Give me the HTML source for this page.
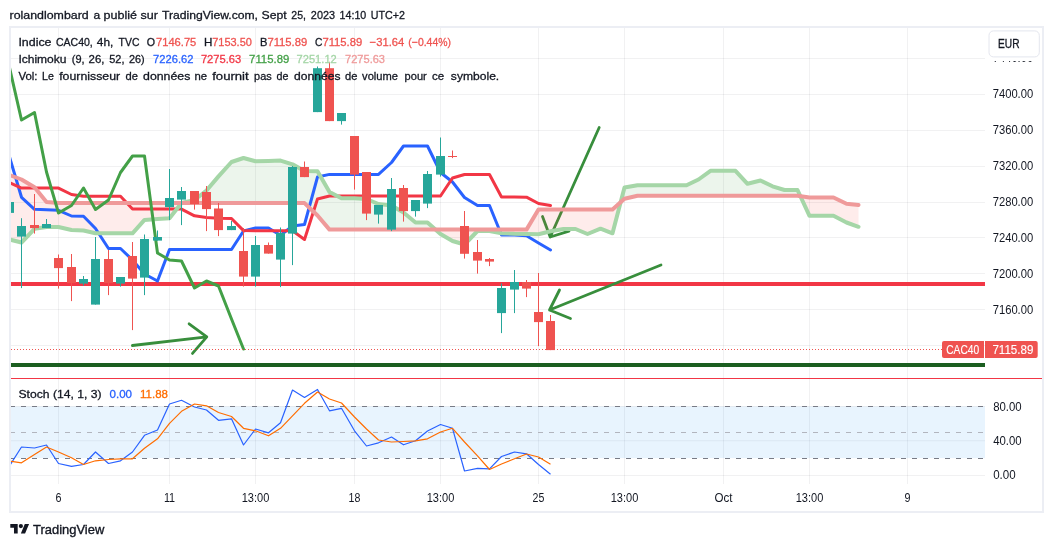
<!DOCTYPE html>
<html><head><meta charset="utf-8"><title>CAC40</title>
<style>
html,body{margin:0;padding:0;background:#fff;}
body{width:1053px;height:547px;overflow:hidden;}
svg{display:block;font-family:"Liberation Sans",sans-serif;will-change:transform;}
</style></head><body>
<svg width="1053" height="547" viewBox="0 0 1053 547">
<defs>
<clipPath id="mainclip"><rect x="10" y="27" width="975" height="351"/></clipPath>
<clipPath id="stochclip"><rect x="10" y="379" width="975" height="105"/></clipPath>
<clipPath id="hid"><rect x="985" y="60.9" width="58" height="10"/></clipPath>
</defs>
<rect width="1053" height="547" fill="#fff"/>
<line x1="10" x2="985" y1="58.5" y2="58.5" stroke="rgba(42,46,57,0.065)" stroke-width="1"/>
<line x1="10" x2="985" y1="94.5" y2="94.5" stroke="rgba(42,46,57,0.065)" stroke-width="1"/>
<line x1="10" x2="985" y1="130.5" y2="130.5" stroke="rgba(42,46,57,0.065)" stroke-width="1"/>
<line x1="10" x2="985" y1="166.5" y2="166.5" stroke="rgba(42,46,57,0.065)" stroke-width="1"/>
<line x1="10" x2="985" y1="202.5" y2="202.5" stroke="rgba(42,46,57,0.065)" stroke-width="1"/>
<line x1="10" x2="985" y1="237.5" y2="237.5" stroke="rgba(42,46,57,0.065)" stroke-width="1"/>
<line x1="10" x2="985" y1="273.5" y2="273.5" stroke="rgba(42,46,57,0.065)" stroke-width="1"/>
<line x1="10" x2="985" y1="309.5" y2="309.5" stroke="rgba(42,46,57,0.065)" stroke-width="1"/>
<line x1="10" x2="985" y1="345.5" y2="345.5" stroke="rgba(42,46,57,0.065)" stroke-width="1"/>
<line x1="10" x2="985" y1="406.5" y2="406.5" stroke="rgba(42,46,57,0.065)" stroke-width="1"/>
<line x1="10" x2="985" y1="440.7" y2="440.7" stroke="rgba(42,46,57,0.065)" stroke-width="1"/>
<line x1="10" x2="985" y1="475.5" y2="475.5" stroke="rgba(42,46,57,0.065)" stroke-width="1"/>
<line x1="58.5" x2="58.5" y1="27" y2="484" stroke="rgba(42,46,57,0.065)" stroke-width="1"/>
<line x1="169.5" x2="169.5" y1="27" y2="484" stroke="rgba(42,46,57,0.065)" stroke-width="1"/>
<line x1="255.5" x2="255.5" y1="27" y2="484" stroke="rgba(42,46,57,0.065)" stroke-width="1"/>
<line x1="354.5" x2="354.5" y1="27" y2="484" stroke="rgba(42,46,57,0.065)" stroke-width="1"/>
<line x1="440.5" x2="440.5" y1="27" y2="484" stroke="rgba(42,46,57,0.065)" stroke-width="1"/>
<line x1="538.5" x2="538.5" y1="27" y2="484" stroke="rgba(42,46,57,0.065)" stroke-width="1"/>
<line x1="624.5" x2="624.5" y1="27" y2="484" stroke="rgba(42,46,57,0.065)" stroke-width="1"/>
<line x1="723.5" x2="723.5" y1="27" y2="484" stroke="rgba(42,46,57,0.065)" stroke-width="1"/>
<line x1="809.5" x2="809.5" y1="27" y2="484" stroke="rgba(42,46,57,0.065)" stroke-width="1"/>
<line x1="907.5" x2="907.5" y1="27" y2="484" stroke="rgba(42,46,57,0.065)" stroke-width="1"/>
<g clip-path="url(#mainclip)">
<line x1="10" x2="985" y1="284" y2="284" stroke="#f23645" stroke-width="4"/>
<line x1="10" x2="985" y1="365" y2="365" stroke="#1b5e20" stroke-width="4"/>
<path d="M132.4 345.5L206.8 336.9M189.1 323.8L206.8 336.9L192.5 353.4" fill="none" stroke="#388e3c" stroke-width="2.8" stroke-linecap="round" stroke-linejoin="round"/>
<path d="M599.2 127.5L550.2 237M542.5 216.5L550.2 237L569 231.2" fill="none" stroke="#388e3c" stroke-width="2.8" stroke-linecap="round" stroke-linejoin="round"/>
<path d="M661 265L549.5 310M559.5 290L549.5 310L570.5 318.5" fill="none" stroke="#388e3c" stroke-width="2.8" stroke-linecap="round" stroke-linejoin="round"/>
<polygon points="9.50,239.50 21.50,242.50 34.50,228.80 46.50,227.00 58.50,227.00 71.50,230.00 83.50,230.50 95.50,233.30 108.50,233.30 120.50,233.30 132.50,233.30 144.50,219.90 157.50,218.90 169.50,218.30 181.42,203.10 169.50,203.10 157.50,203.10 144.50,203.10 132.50,203.10 120.50,203.10 108.50,203.10 95.50,203.10 83.50,203.10 71.50,203.10 58.50,203.10 46.50,202.00 34.50,187.30 21.50,179.50 9.50,175.00" fill="rgba(244,67,54,0.1)"/>
<polygon points="181.42,203.10 181.50,203.00 194.50,200.00 206.50,190.50 218.50,176.40 231.50,162.00 243.50,158.00 255.50,161.30 268.50,161.00 280.50,160.60 292.50,164.30 304.50,171.00 317.50,171.20 329.50,192.00 341.50,198.30 354.50,198.30 366.50,199.00 378.50,204.00 391.50,205.50 403.50,212.50 415.50,222.50 427.50,222.50 435.53,229.60 427.50,229.60 415.50,229.60 403.50,229.60 391.50,229.60 378.50,229.60 366.50,229.60 354.50,229.60 341.50,229.60 329.50,229.60 317.50,215.50 304.50,203.10 292.50,203.10 280.50,203.10 268.50,203.10 255.50,203.10 243.50,203.10 231.50,203.10 218.50,203.10 206.50,203.10 194.50,203.10 181.50,203.10" fill="rgba(67,160,71,0.1)"/>
<polygon points="435.53,229.60 440.50,234.00 452.50,241.00 464.50,244.50 477.50,231.00 489.50,231.00 501.50,233.20 514.50,233.80 526.50,234.00 538.50,234.30 550.50,231.30 563.50,229.00 575.50,229.00 587.50,234.00 600.50,228.70 612.50,233.30 620.64,202.24 612.50,209.50 600.50,209.50 587.50,209.50 575.50,209.50 563.50,209.50 550.50,209.50 538.50,209.50 526.50,229.60 514.50,229.60 501.50,229.60 489.50,229.60 477.50,229.60 464.50,229.60 452.50,229.60 440.50,229.60" fill="rgba(244,67,54,0.1)"/>
<polygon points="620.64,202.24 624.50,187.50 637.50,185.20 649.50,185.20 661.50,185.20 674.50,185.20 686.50,185.20 698.50,179.50 710.50,170.80 723.50,170.80 735.50,170.80 747.50,183.80 760.50,180.50 772.50,186.30 784.50,190.00 797.50,190.00 800.39,196.21 797.50,195.80 784.50,195.80 772.50,195.80 760.50,195.80 747.50,195.80 735.50,195.80 723.50,195.80 710.50,195.80 698.50,195.80 686.50,195.80 674.50,195.80 661.50,195.80 649.50,195.80 637.50,195.80 624.50,198.80" fill="rgba(67,160,71,0.1)"/>
<polygon points="800.39,196.21 809.50,215.80 821.50,215.80 833.50,215.80 846.50,222.50 858.50,226.80 858.50,205.00 846.50,203.80 833.50,197.50 821.50,197.50 809.50,197.50" fill="rgba(244,67,54,0.1)"/>
<polyline points="9.5,157 21.5,197.3 34.5,209.3 46.5,209.7 58.5,210.3 71.5,216 83.5,216.2 95.5,228.5 108.5,248.5 120.5,248.5 132.5,260 144.5,274 157.5,281 169.5,249.5 181.5,249.5 194.5,249.5 206.5,249.5 218.5,249.5 231.5,249.5 243.5,231 255.5,228 268.5,228 280.5,235.2 292.5,226 304.5,224.5 317.5,177 329.5,174.4 341.5,174.4 354.5,174.4 366.5,174.4 378.5,174.4 391.5,162.5 403.5,146 415.5,146 427.5,146 440.5,172.5 452.5,182 464.5,197.5 477.5,205.5 489.5,205.5 501.5,235 514.5,235 526.5,235.8 538.5,243 550.5,250" fill="none" stroke="#2962ff" stroke-width="3" stroke-linejoin="round" stroke-linecap="round"/>
<polyline points="9.5,182.6 21.5,188.1 34.5,188.1 46.5,188.1 58.5,188.1 71.5,194.5 83.5,196.2 95.5,196.2 108.5,196.2 120.5,196.2 132.5,209.1 144.5,209.1 157.5,209.1 169.5,209.1 181.5,209.1 194.5,215.8 206.5,217.6 218.5,218.3 231.5,218.5 243.5,230.6 255.5,230.8 268.5,230.8 280.5,230.8 292.5,230.8 304.5,239.5 317.5,199 329.5,196 341.5,196 354.5,196 366.5,196 378.5,196 391.5,196 403.5,196 415.5,196 427.5,196 440.5,196 452.5,178 464.5,174.5 477.5,174.5 489.5,174.5 501.5,197 514.5,197 526.5,197.2 538.5,203.5 550.5,205.5" fill="none" stroke="#f23645" stroke-width="3" stroke-linejoin="round" stroke-linecap="round"/>
<polyline points="9.5,239.5 21.5,242.5 34.5,228.8 46.5,227 58.5,227 71.5,230 83.5,230.5 95.5,233.3 108.5,233.3 120.5,233.3 132.5,233.3 144.5,219.9 157.5,218.9 169.5,218.3 181.5,203 194.5,200 206.5,190.5 218.5,176.4 231.5,162 243.5,158 255.5,161.3 268.5,161 280.5,160.6 292.5,164.3 304.5,171 317.5,171.2 329.5,192 341.5,198.3 354.5,198.3 366.5,199 378.5,204 391.5,205.5 403.5,212.5 415.5,222.5 427.5,222.5 440.5,234 452.5,241 464.5,244.5 477.5,231 489.5,231 501.5,233.2 514.5,233.8 526.5,234 538.5,234.3 550.5,231.3 563.5,229 575.5,229 587.5,234 600.5,228.7 612.5,233.3 624.5,187.5 637.5,185.2 649.5,185.2 661.5,185.2 674.5,185.2 686.5,185.2 698.5,179.5 710.5,170.8 723.5,170.8 735.5,170.8 747.5,183.8 760.5,180.5 772.5,186.3 784.5,190 797.5,190 809.5,215.8 821.5,215.8 833.5,215.8 846.5,222.5 858.5,226.8" fill="none" stroke="#a5d6a7" stroke-width="4" stroke-linejoin="round" stroke-linecap="round"/>
<polyline points="9.5,175 21.5,179.5 34.5,187.3 46.5,202 58.5,203.1 71.5,203.1 83.5,203.1 95.5,203.1 108.5,203.1 120.5,203.1 132.5,203.1 144.5,203.1 157.5,203.1 169.5,203.1 181.5,203.1 194.5,203.1 206.5,203.1 218.5,203.1 231.5,203.1 243.5,203.1 255.5,203.1 268.5,203.1 280.5,203.1 292.5,203.1 304.5,203.1 317.5,215.5 329.5,229.6 341.5,229.6 354.5,229.6 366.5,229.6 378.5,229.6 391.5,229.6 403.5,229.6 415.5,229.6 427.5,229.6 440.5,229.6 452.5,229.6 464.5,229.6 477.5,229.6 489.5,229.6 501.5,229.6 514.5,229.6 526.5,229.6 538.5,209.5 550.5,209.5 563.5,209.5 575.5,209.5 587.5,209.5 600.5,209.5 612.5,209.5 624.5,198.8 637.5,195.8 649.5,195.8 661.5,195.8 674.5,195.8 686.5,195.8 698.5,195.8 710.5,195.8 723.5,195.8 735.5,195.8 747.5,195.8 760.5,195.8 772.5,195.8 784.5,195.8 797.5,195.8 809.5,197.5 821.5,197.5 833.5,197.5 846.5,203.8 858.5,205" fill="none" stroke="#ef9a9a" stroke-width="4" stroke-linejoin="round" stroke-linecap="round"/>
<polyline points="9.5,67.5 21.5,120 34.5,112.5 46.5,172 58.5,213 71.5,205.5 83.5,188 95.5,209.5 108.5,200 120.5,172.5 132.5,156 144.5,156 157.5,253 169.5,260 181.5,261 194.5,288 206.5,281 218.5,286 231.5,319 243.5,349" fill="none" stroke="#43a047" stroke-width="3" stroke-linejoin="round" stroke-linecap="round"/>
<rect x="9" y="202" width="1" height="10.9" fill="#26a69a"/>
<rect x="5" y="202" width="9" height="10.9" fill="#26a69a"/>
<rect x="21" y="218.2" width="1" height="69.9" fill="#26a69a"/>
<rect x="17" y="226" width="9" height="10.6" fill="#26a69a"/>
<rect x="34" y="194" width="1" height="39.6" fill="#ef5350"/>
<rect x="30" y="225" width="9" height="3.1" fill="#ef5350"/>
<rect x="46" y="219" width="1" height="9.1" fill="#26a69a"/>
<rect x="42" y="224" width="9" height="4.1" fill="#26a69a"/>
<rect x="58" y="254.5" width="1" height="34.1" fill="#ef5350"/>
<rect x="54" y="258" width="9" height="10.1" fill="#ef5350"/>
<rect x="71" y="254" width="1" height="47.1" fill="#ef5350"/>
<rect x="67" y="267" width="9" height="16.1" fill="#ef5350"/>
<rect x="83" y="276" width="1" height="9.6" fill="#26a69a"/>
<rect x="79" y="279" width="9" height="4.6" fill="#26a69a"/>
<rect x="95" y="237" width="1" height="67.6" fill="#26a69a"/>
<rect x="91" y="259" width="9" height="45.6" fill="#26a69a"/>
<rect x="108" y="250" width="1" height="45.1" fill="#ef5350"/>
<rect x="104" y="259" width="9" height="24.1" fill="#ef5350"/>
<rect x="120" y="277" width="1" height="9.6" fill="#26a69a"/>
<rect x="116" y="277" width="9" height="6.6" fill="#26a69a"/>
<rect x="132" y="242" width="1" height="88.1" fill="#ef5350"/>
<rect x="128" y="256" width="9" height="22.6" fill="#ef5350"/>
<rect x="144" y="234.5" width="1" height="60.6" fill="#26a69a"/>
<rect x="140" y="239" width="9" height="38.6" fill="#26a69a"/>
<rect x="157" y="230.5" width="1" height="10.1" fill="#26a69a"/>
<rect x="153" y="237" width="9" height="3.6" fill="#26a69a"/>
<rect x="169" y="169" width="1" height="51.1" fill="#26a69a"/>
<rect x="165" y="198" width="9" height="9.1" fill="#26a69a"/>
<rect x="181" y="187" width="1" height="38.1" fill="#26a69a"/>
<rect x="177" y="191" width="9" height="8.6" fill="#26a69a"/>
<rect x="194" y="191" width="1" height="18.6" fill="#ef5350"/>
<rect x="190" y="191" width="9" height="13.1" fill="#ef5350"/>
<rect x="206" y="186" width="1" height="45.1" fill="#ef5350"/>
<rect x="202" y="192" width="9" height="17.1" fill="#ef5350"/>
<rect x="218" y="203" width="1" height="33.1" fill="#ef5350"/>
<rect x="214" y="208.5" width="9" height="21.6" fill="#ef5350"/>
<rect x="231" y="221" width="1" height="9.1" fill="#26a69a"/>
<rect x="227" y="226" width="9" height="4.1" fill="#26a69a"/>
<rect x="243" y="228" width="1" height="58.6" fill="#ef5350"/>
<rect x="239" y="251" width="9" height="25.6" fill="#ef5350"/>
<rect x="255" y="236" width="1" height="50.6" fill="#26a69a"/>
<rect x="251" y="245" width="9" height="31.6" fill="#26a69a"/>
<rect x="268" y="242.5" width="1" height="11.1" fill="#ef5350"/>
<rect x="264" y="245" width="9" height="8.6" fill="#ef5350"/>
<rect x="280" y="227.5" width="1" height="59.6" fill="#26a69a"/>
<rect x="276" y="233" width="9" height="26.6" fill="#26a69a"/>
<rect x="292" y="166" width="1" height="99.1" fill="#26a69a"/>
<rect x="288" y="167" width="9" height="66.6" fill="#26a69a"/>
<rect x="304" y="161.5" width="1" height="15.6" fill="#ef5350"/>
<rect x="300" y="167" width="9" height="10.1" fill="#ef5350"/>
<rect x="317" y="66.5" width="1" height="45.6" fill="#26a69a"/>
<rect x="313" y="68.2" width="9" height="43.9" fill="#26a69a"/>
<rect x="329" y="61.8" width="1" height="59.3" fill="#ef5350"/>
<rect x="325" y="68.2" width="9" height="52.9" fill="#ef5350"/>
<rect x="341" y="113" width="1" height="11.6" fill="#26a69a"/>
<rect x="337" y="113" width="9" height="8.1" fill="#26a69a"/>
<rect x="354" y="136" width="1" height="53.6" fill="#ef5350"/>
<rect x="350" y="136" width="9" height="38.6" fill="#ef5350"/>
<rect x="366" y="172" width="1" height="48.1" fill="#ef5350"/>
<rect x="362" y="172" width="9" height="41.6" fill="#ef5350"/>
<rect x="378" y="205" width="1" height="18.6" fill="#26a69a"/>
<rect x="374" y="205" width="9" height="9.6" fill="#26a69a"/>
<rect x="391" y="178" width="1" height="53.1" fill="#26a69a"/>
<rect x="387" y="189" width="9" height="40.6" fill="#26a69a"/>
<rect x="403" y="185" width="1" height="36.6" fill="#ef5350"/>
<rect x="399" y="188" width="9" height="23.1" fill="#ef5350"/>
<rect x="415" y="200" width="1" height="16.6" fill="#26a69a"/>
<rect x="411" y="200" width="9" height="11.1" fill="#26a69a"/>
<rect x="427" y="171" width="1" height="37.1" fill="#26a69a"/>
<rect x="423" y="174" width="9" height="29.6" fill="#26a69a"/>
<rect x="440" y="137.5" width="1" height="39.1" fill="#26a69a"/>
<rect x="436" y="156" width="9" height="18.6" fill="#26a69a"/>
<rect x="452" y="150.5" width="1" height="7.6" fill="#ef5350"/>
<rect x="448" y="156" width="9" height="1.0" fill="#ef5350"/>
<rect x="464" y="211" width="1" height="47.6" fill="#ef5350"/>
<rect x="460" y="226" width="9" height="27.8" fill="#ef5350"/>
<rect x="477" y="240" width="1" height="33.6" fill="#ef5350"/>
<rect x="473" y="252" width="9" height="8.6" fill="#ef5350"/>
<rect x="489" y="258" width="1" height="8.1" fill="#ef5350"/>
<rect x="485" y="259" width="9" height="2.6" fill="#ef5350"/>
<rect x="501" y="283.5" width="1" height="49.6" fill="#26a69a"/>
<rect x="497" y="288" width="9" height="25.1" fill="#26a69a"/>
<rect x="514" y="270" width="1" height="43.1" fill="#26a69a"/>
<rect x="510" y="282" width="9" height="7.6" fill="#26a69a"/>
<rect x="526" y="280" width="1" height="17.1" fill="#ef5350"/>
<rect x="522" y="282" width="9" height="6.6" fill="#ef5350"/>
<rect x="538" y="273" width="1" height="73.1" fill="#ef5350"/>
<rect x="534" y="312" width="9" height="10.1" fill="#ef5350"/>
<rect x="550" y="315" width="1" height="35.1" fill="#ef5350"/>
<rect x="546" y="321" width="9" height="29.1" fill="#ef5350"/>
<line x1="11" x2="985" y1="349.5" y2="349.5" stroke="#ef5350" stroke-width="1" stroke-dasharray="1 2"/>
</g>
<g clip-path="url(#stochclip)">
<rect x="10" y="406.5" width="975" height="51.6" fill="rgba(33,150,243,0.1)"/>
<line x1="10" x2="985" y1="406.5" y2="406.5" stroke="#787b86" stroke-width="1" stroke-dasharray="5 6"/>
<line x1="10" x2="985" y1="432.5" y2="432.5" stroke="#b2b5be" stroke-width="1" stroke-dasharray="5 6"/>
<line x1="10" x2="985" y1="458.5" y2="458.5" stroke="#787b86" stroke-width="1" stroke-dasharray="5 6"/>
<polyline points="9.5,466 21.5,447 34.5,448 46.5,445 58.5,463.5 71.5,466.3 83.5,464.5 95.5,452 108.5,463.5 120.5,460.8 132.5,452 144.5,435.3 157.5,430 169.5,404 181.5,400.3 194.5,407 206.5,410 218.5,420.3 231.5,418.8 243.5,445 255.5,429 268.5,432.8 280.5,422.8 292.5,390 304.5,397.5 317.5,389.5 329.5,410.8 341.5,408.3 354.5,430.8 366.5,446 378.5,442.8 391.5,437 403.5,444.8 415.5,440.8 427.5,431 440.5,424.5 452.5,428.3 464.5,471 477.5,468.3 489.5,468.8 501.5,456.5 514.5,452 526.5,453.8 538.5,464.5 550.5,474.3" fill="none" stroke="#2962ff" stroke-width="1.2" stroke-linejoin="round"/>
<polyline points="9.5,461 21.5,462.8 34.5,454.5 46.5,447 58.5,452 71.5,457.8 83.5,464.5 95.5,460.8 108.5,459.5 120.5,458.8 132.5,458.8 144.5,448.3 157.5,438.8 169.5,423.3 181.5,411.3 194.5,404 206.5,405.8 218.5,412.5 231.5,416.5 243.5,428.3 255.5,430.8 268.5,435.8 280.5,428.3 292.5,415.8 304.5,403.3 317.5,392 329.5,399 341.5,403 354.5,417 366.5,429 378.5,440 391.5,442 403.5,441.5 415.5,440.8 427.5,438.8 440.5,432 452.5,428.3 464.5,442 477.5,455.8 489.5,469.5 501.5,464 514.5,458.8 526.5,454 538.5,457 550.5,464.3" fill="none" stroke="#ff6d00" stroke-width="1.2" stroke-linejoin="round"/>
</g>
<line x1="10" x2="1043" y1="378.5" y2="378.5" stroke="#f23645" stroke-width="1"/>
<rect x="10" y="27" width="1033" height="485" fill="none" stroke="#eceef4" stroke-width="2"/>
<text x="9.6" y="19" fill="#131722" font-size="11.7" textLength="79.1" lengthAdjust="spacingAndGlyphs" stroke="#131722" stroke-width="0.3">rolandlombard</text>
<text x="93.6" y="19" fill="#131722" font-size="11.7" textLength="6.7" lengthAdjust="spacingAndGlyphs" stroke="#131722" stroke-width="0.3">a</text>
<text x="103.6" y="19" fill="#131722" font-size="11.7" textLength="33.5" lengthAdjust="spacingAndGlyphs" stroke="#131722" stroke-width="0.3">publié</text>
<text x="140.5" y="19" fill="#131722" font-size="11.7" textLength="17.4" lengthAdjust="spacingAndGlyphs" stroke="#131722" stroke-width="0.3">sur</text>
<text x="162.0" y="19" fill="#131722" font-size="11.7" textLength="96.0" lengthAdjust="spacingAndGlyphs" stroke="#131722" stroke-width="0.3">TradingView.com,</text>
<text x="261.6" y="19" fill="#131722" font-size="11.7" textLength="25.15" lengthAdjust="spacingAndGlyphs" stroke="#131722" stroke-width="0.3">Sept</text>
<text x="291.35" y="19" fill="#131722" font-size="11.7" textLength="14.65" lengthAdjust="spacingAndGlyphs" stroke="#131722" stroke-width="0.3">25,</text>
<text x="310.85" y="19" fill="#131722" font-size="11.7" textLength="24.15" lengthAdjust="spacingAndGlyphs" stroke="#131722" stroke-width="0.3">2023</text>
<text x="339.6" y="19" fill="#131722" font-size="11.7" textLength="26.65" lengthAdjust="spacingAndGlyphs" stroke="#131722" stroke-width="0.3">14:10</text>
<text x="370.85" y="19" fill="#131722" font-size="11.7" textLength="34.15" lengthAdjust="spacingAndGlyphs" stroke="#131722" stroke-width="0.3">UTC+2</text>
<text x="18.4" y="46.3" fill="#131722" font-size="11.5" textLength="33.1" lengthAdjust="spacingAndGlyphs" stroke="#131722" stroke-width="0.3">Indice</text>
<text x="55.9" y="46.3" fill="#131722" font-size="11.5" textLength="36.9" lengthAdjust="spacingAndGlyphs" stroke="#131722" stroke-width="0.3">CAC40,</text>
<text x="96.8" y="46.3" fill="#131722" font-size="11.5" textLength="16.5" lengthAdjust="spacingAndGlyphs" stroke="#131722" stroke-width="0.3">4h,</text>
<text x="118.6" y="46.3" fill="#131722" font-size="11.5" textLength="20.8" lengthAdjust="spacingAndGlyphs" stroke="#131722" stroke-width="0.3">TVC</text>
<text x="146.8" y="46.3" fill="#131722" font-size="11.5" textLength="8.3" lengthAdjust="spacingAndGlyphs" stroke="#131722" stroke-width="0.3">O</text>
<text x="203.9" y="46.3" fill="#131722" font-size="11.5" textLength="8.4" lengthAdjust="spacingAndGlyphs" stroke="#131722" stroke-width="0.3">H</text>
<text x="260.1" y="46.3" fill="#131722" font-size="11.5" textLength="7.4" lengthAdjust="spacingAndGlyphs" stroke="#131722" stroke-width="0.3">B</text>
<text x="315.1" y="46.3" fill="#131722" font-size="11.5" textLength="7.4" lengthAdjust="spacingAndGlyphs" stroke="#131722" stroke-width="0.3">C</text>
<text x="156.0" y="46.3" fill="#ef5350" font-size="11.5" textLength="40.3" lengthAdjust="spacingAndGlyphs" stroke="#ef5350" stroke-width="0.3">7146.75</text>
<text x="212.2" y="46.3" fill="#ef5350" font-size="11.5" textLength="39.7" lengthAdjust="spacingAndGlyphs" stroke="#ef5350" stroke-width="0.3">7153.50</text>
<text x="267.4" y="46.3" fill="#ef5350" font-size="11.5" textLength="39.85" lengthAdjust="spacingAndGlyphs" stroke="#ef5350" stroke-width="0.3">7115.89</text>
<text x="322.4" y="46.3" fill="#ef5350" font-size="11.5" textLength="39.85" lengthAdjust="spacingAndGlyphs" stroke="#ef5350" stroke-width="0.3">7115.89</text>
<text x="369.6" y="46.3" fill="#ef5350" font-size="11.5" textLength="34.65" lengthAdjust="spacingAndGlyphs" stroke="#ef5350" stroke-width="0.3">−31.64</text>
<text x="408.35" y="46.3" fill="#ef5350" font-size="11.5" textLength="42.65" lengthAdjust="spacingAndGlyphs" stroke="#ef5350" stroke-width="0.3">(−0.44%)</text>
<text x="18.4" y="62.7" fill="#131722" font-size="11.5" textLength="48.1" lengthAdjust="spacingAndGlyphs" stroke="#131722" stroke-width="0.3">Ichimoku</text>
<text x="71.8" y="62.7" fill="#131722" font-size="11.5" textLength="12.8" lengthAdjust="spacingAndGlyphs" stroke="#131722" stroke-width="0.3">(9,</text>
<text x="88.6" y="62.7" fill="#131722" font-size="11.5" textLength="15.9" lengthAdjust="spacingAndGlyphs" stroke="#131722" stroke-width="0.3">26,</text>
<text x="109.3" y="62.7" fill="#131722" font-size="11.5" textLength="15.2" lengthAdjust="spacingAndGlyphs" stroke="#131722" stroke-width="0.3">52,</text>
<text x="129.0" y="62.7" fill="#131722" font-size="11.5" textLength="15.7" lengthAdjust="spacingAndGlyphs" stroke="#131722" stroke-width="0.3">26)</text>
<text x="153.1" y="62.7" fill="#2962ff" font-size="11.5" textLength="40.4" lengthAdjust="spacingAndGlyphs" stroke="#2962ff" stroke-width="0.3">7226.62</text>
<text x="200.9" y="62.7" fill="#f23645" font-size="11.5" textLength="40.3" lengthAdjust="spacingAndGlyphs" stroke="#f23645" stroke-width="0.3">7275.63</text>
<text x="249.1" y="62.7" fill="#43a047" font-size="11.5" textLength="40.15" lengthAdjust="spacingAndGlyphs" stroke="#43a047" stroke-width="0.3">7115.89</text>
<text x="296.6" y="62.7" fill="#a5d6a7" font-size="11.5" textLength="40.15" lengthAdjust="spacingAndGlyphs" stroke="#a5d6a7" stroke-width="0.3">7251.12</text>
<text x="345.1" y="62.7" fill="#ef9a9a" font-size="11.5" textLength="39.9" lengthAdjust="spacingAndGlyphs" stroke="#ef9a9a" stroke-width="0.3">7275.63</text>
<text x="18.4" y="79.7" fill="#131722" font-size="11.5" textLength="19.1" lengthAdjust="spacingAndGlyphs" stroke="#131722" stroke-width="0.3">Vol:</text>
<text x="42.1" y="79.7" fill="#131722" font-size="11.5" textLength="11.8" lengthAdjust="spacingAndGlyphs" stroke="#131722" stroke-width="0.3">Le</text>
<text x="59.2" y="79.7" fill="#131722" font-size="11.5" textLength="61.0" lengthAdjust="spacingAndGlyphs" stroke="#131722" stroke-width="0.3">fournisseur</text>
<text x="125.6" y="79.7" fill="#131722" font-size="11.5" textLength="12.4" lengthAdjust="spacingAndGlyphs" stroke="#131722" stroke-width="0.3">de</text>
<text x="143.1" y="79.7" fill="#131722" font-size="11.5" textLength="47.2" lengthAdjust="spacingAndGlyphs" stroke="#131722" stroke-width="0.3">données</text>
<text x="194.4" y="79.7" fill="#131722" font-size="11.5" textLength="12.6" lengthAdjust="spacingAndGlyphs" stroke="#131722" stroke-width="0.3">ne</text>
<text x="212.2" y="79.7" fill="#131722" font-size="11.5" textLength="36.5" lengthAdjust="spacingAndGlyphs" stroke="#131722" stroke-width="0.3">fournit</text>
<text x="254.1" y="79.7" fill="#131722" font-size="11.5" textLength="17.65" lengthAdjust="spacingAndGlyphs" stroke="#131722" stroke-width="0.3">pas</text>
<text x="276.6" y="79.7" fill="#131722" font-size="11.5" textLength="11.9" lengthAdjust="spacingAndGlyphs" stroke="#131722" stroke-width="0.3">de</text>
<text x="294.1" y="79.7" fill="#131722" font-size="11.5" textLength="46.4" lengthAdjust="spacingAndGlyphs" stroke="#131722" stroke-width="0.3">données</text>
<text x="345.1" y="79.7" fill="#131722" font-size="11.5" textLength="12.4" lengthAdjust="spacingAndGlyphs" stroke="#131722" stroke-width="0.3">de</text>
<text x="362.1" y="79.7" fill="#131722" font-size="11.5" textLength="35.9" lengthAdjust="spacingAndGlyphs" stroke="#131722" stroke-width="0.3">volume</text>
<text x="404.6" y="79.7" fill="#131722" font-size="11.5" textLength="22.15" lengthAdjust="spacingAndGlyphs" stroke="#131722" stroke-width="0.3">pour</text>
<text x="432.1" y="79.7" fill="#131722" font-size="11.5" textLength="12.15" lengthAdjust="spacingAndGlyphs" stroke="#131722" stroke-width="0.3">ce</text>
<text x="450.85" y="79.7" fill="#131722" font-size="11.5" textLength="48.4" lengthAdjust="spacingAndGlyphs" stroke="#131722" stroke-width="0.3">symbole.</text>
<text x="18.5" y="398" fill="#131722" font-size="11.5" textLength="83" lengthAdjust="spacingAndGlyphs" stroke="#131722" stroke-width="0.3">Stoch (14, 1, 3)</text>
<text x="109.5" y="398" fill="#2962ff" font-size="11.5" textLength="22.5" lengthAdjust="spacingAndGlyphs" stroke="#2962ff" stroke-width="0.3">0.00</text>
<text x="140" y="398" fill="#ff6d00" font-size="11.5" textLength="28" lengthAdjust="spacingAndGlyphs" stroke="#ff6d00" stroke-width="0.3">11.88</text>
<text x="992.7" y="97.8" fill="#131722" font-size="12" textLength="40.5" lengthAdjust="spacingAndGlyphs" stroke="none">7400.00</text>
<text x="992.7" y="133.8" fill="#131722" font-size="12" textLength="40.5" lengthAdjust="spacingAndGlyphs" stroke="none">7360.00</text>
<text x="992.7" y="169.8" fill="#131722" font-size="12" textLength="40.5" lengthAdjust="spacingAndGlyphs" stroke="none">7320.00</text>
<text x="992.7" y="205.8" fill="#131722" font-size="12" textLength="40.5" lengthAdjust="spacingAndGlyphs" stroke="none">7280.00</text>
<text x="992.7" y="241.8" fill="#131722" font-size="12" textLength="40.5" lengthAdjust="spacingAndGlyphs" stroke="none">7240.00</text>
<text x="992.7" y="277.8" fill="#131722" font-size="12" textLength="40.5" lengthAdjust="spacingAndGlyphs" stroke="none">7200.00</text>
<text x="992.7" y="313.8" fill="#131722" font-size="12" textLength="40.5" lengthAdjust="spacingAndGlyphs" stroke="none">7160.00</text>
<g clip-path="url(#hid)">
<text x="992.7" y="61.8" fill="#131722" font-size="12" textLength="40.5" lengthAdjust="spacingAndGlyphs" stroke="none">7440.00</text>
</g>
<text x="993.2" y="410.8" fill="#131722" font-size="12" textLength="28.5" lengthAdjust="spacingAndGlyphs" stroke="none">80.00</text>
<text x="993.2" y="444.8" fill="#131722" font-size="12" textLength="28.5" lengthAdjust="spacingAndGlyphs" stroke="none">40.00</text>
<text x="993.2" y="478.8" fill="#131722" font-size="12" textLength="22.5" lengthAdjust="spacingAndGlyphs" stroke="none">0.00</text>
<text x="55.5" y="501.5" fill="#131722" font-size="12" textLength="6" lengthAdjust="spacingAndGlyphs" stroke="none">6</text>
<text x="163.9" y="501.5" fill="#131722" font-size="12" textLength="11.2" lengthAdjust="spacingAndGlyphs" stroke="none">11</text>
<text x="241.7" y="501.5" fill="#131722" font-size="12" textLength="27.6" lengthAdjust="spacingAndGlyphs" stroke="none">13:00</text>
<text x="348.6" y="501.5" fill="#131722" font-size="12" textLength="11.8" lengthAdjust="spacingAndGlyphs" stroke="none">18</text>
<text x="426.7" y="501.5" fill="#131722" font-size="12" textLength="27.6" lengthAdjust="spacingAndGlyphs" stroke="none">13:00</text>
<text x="532.6" y="501.5" fill="#131722" font-size="12" textLength="11.8" lengthAdjust="spacingAndGlyphs" stroke="none">25</text>
<text x="610.7" y="501.5" fill="#131722" font-size="12" textLength="27.6" lengthAdjust="spacingAndGlyphs" stroke="none">13:00</text>
<text x="714.5" y="501.5" fill="#131722" font-size="12" textLength="18" lengthAdjust="spacingAndGlyphs" stroke="none">Oct</text>
<text x="795.7" y="501.5" fill="#131722" font-size="12" textLength="27.6" lengthAdjust="spacingAndGlyphs" stroke="none">13:00</text>
<text x="904.5" y="501.5" fill="#131722" font-size="12" textLength="6" lengthAdjust="spacingAndGlyphs" stroke="none">9</text>
<rect x="989" y="30.9" width="50.3" height="26" rx="4.5" fill="#fff" stroke="#e4e6ee"/>
<text x="998" y="48" fill="#131722" font-size="12" textLength="21.5" lengthAdjust="spacingAndGlyphs" stroke="#131722" stroke-width="0.3">EUR</text>
<path d="M944 341H984V358H944a2 2 0 0 1-2-2V343a2 2 0 0 1 2-2z" fill="#ef5350"/>
<path d="M985 341H1035.7a2 2 0 0 1 2 2V356a2 2 0 0 1-2 2H985z" fill="#ef5350"/>
<text x="946.2" y="354" fill="#fff" font-size="12" textLength="33" lengthAdjust="spacingAndGlyphs" stroke="#fff" stroke-width="0.12">CAC40</text>
<text x="992.4" y="354" fill="#fff" font-size="12" textLength="41" lengthAdjust="spacingAndGlyphs" stroke="#fff" stroke-width="0.12">7115.89</text>
<g transform="translate(10.3,521.9) scale(0.528)" fill="#131722"><path d="M14 22H7V11H0V4h14v18zM28 22h-8l7.5-18h8L28 22z"/><circle cx="20" cy="8" r="4"/></g>
<text x="33" y="533.8" fill="#131722" font-size="13" textLength="71.3" lengthAdjust="spacingAndGlyphs" stroke="#131722" stroke-width="0.35">TradingView</text>
</svg>
</body></html>
